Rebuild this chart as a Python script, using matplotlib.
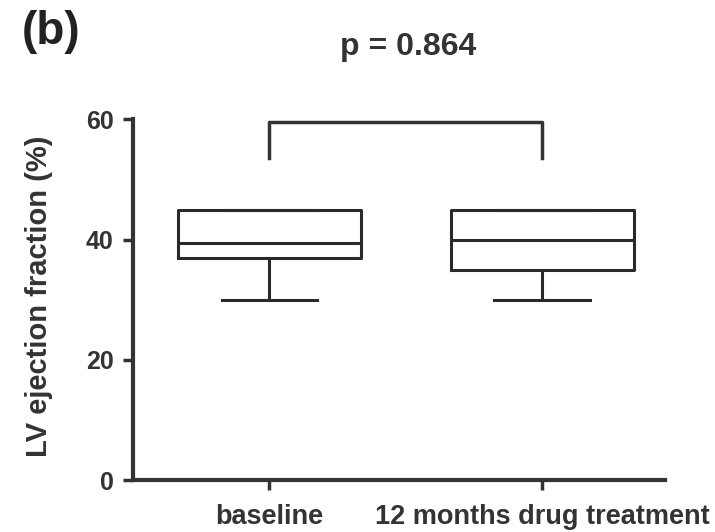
import numpy as np
import matplotlib.pyplot as plt

plt.rcParams['font.family'] = ['Liberation Sans', 'DejaVu Sans']
plt.rcParams['font.weight'] = 'bold'

# datos (LV ejection fraction, %)
grupos = ['baseline', '12 months drug treatment']
minimo = [30, 30]
q1 = [37, 35]
mediana = [39.5, 40]
q3 = [45, 45]
maximo = [45, 45]
p_valor = 'p = 0.864'

stats = []
for i in range(len(grupos)):
    stats.append(dict(label=grupos[i], whislo=minimo[i], q1=q1[i], med=mediana[i],
                      q3=q3[i], whishi=maximo[i]))

fig = plt.figure(figsize=(7.15, 5.32), dpi=100)
ax = fig.add_axes([0.186, 0.0977, 0.744, 0.678])

lw = 2.2
col = '#2a2a2a'
ax.bxp(stats, positions=[1, 2], widths=0.67, showfliers=False, capwidths=0.35,
       boxprops=dict(color=col, linewidth=lw),
       medianprops=dict(color=col, linewidth=lw),
       whiskerprops=dict(color=col, linewidth=lw),
       capprops=dict(color=col, linewidth=lw))

ax.set_xlim(0.5, 2.45)
ax.set_ylim(0, 60)
ax.set_yticks([0, 20, 40, 60])

for s in ['top', 'right']:
    ax.spines[s].set_visible(False)
for s in ['left', 'bottom']:
    ax.spines[s].set_linewidth(3)
    ax.spines[s].set_color('#333333')

ax.tick_params(axis='both', direction='out', length=7, width=2.5, color='#333333',
               labelcolor='#333333')
ax.tick_params(axis='y', labelsize=18, pad=7)
ax.tick_params(axis='x', labelsize=19.5, pad=10)

ax.set_ylabel('LV ejection fraction (%)', fontsize=21, fontweight='bold', color='#333333')
ax.yaxis.set_label_coords(-0.15, 0.51)

# corchete con el p valor
ax.plot([1, 1, 2, 2], [53.5, 59.5, 59.5, 53.5], color='#333333', lw=2.5, clip_on=False)
ax.text(1.51, 72, p_valor, ha='center', va='center', fontsize=23, color='#333333')

fig.text(0.03, 0.94, '(b)', fontsize=33, fontweight='bold', color='#222222', va='center')

plt.savefig('out.png', dpi=100)
